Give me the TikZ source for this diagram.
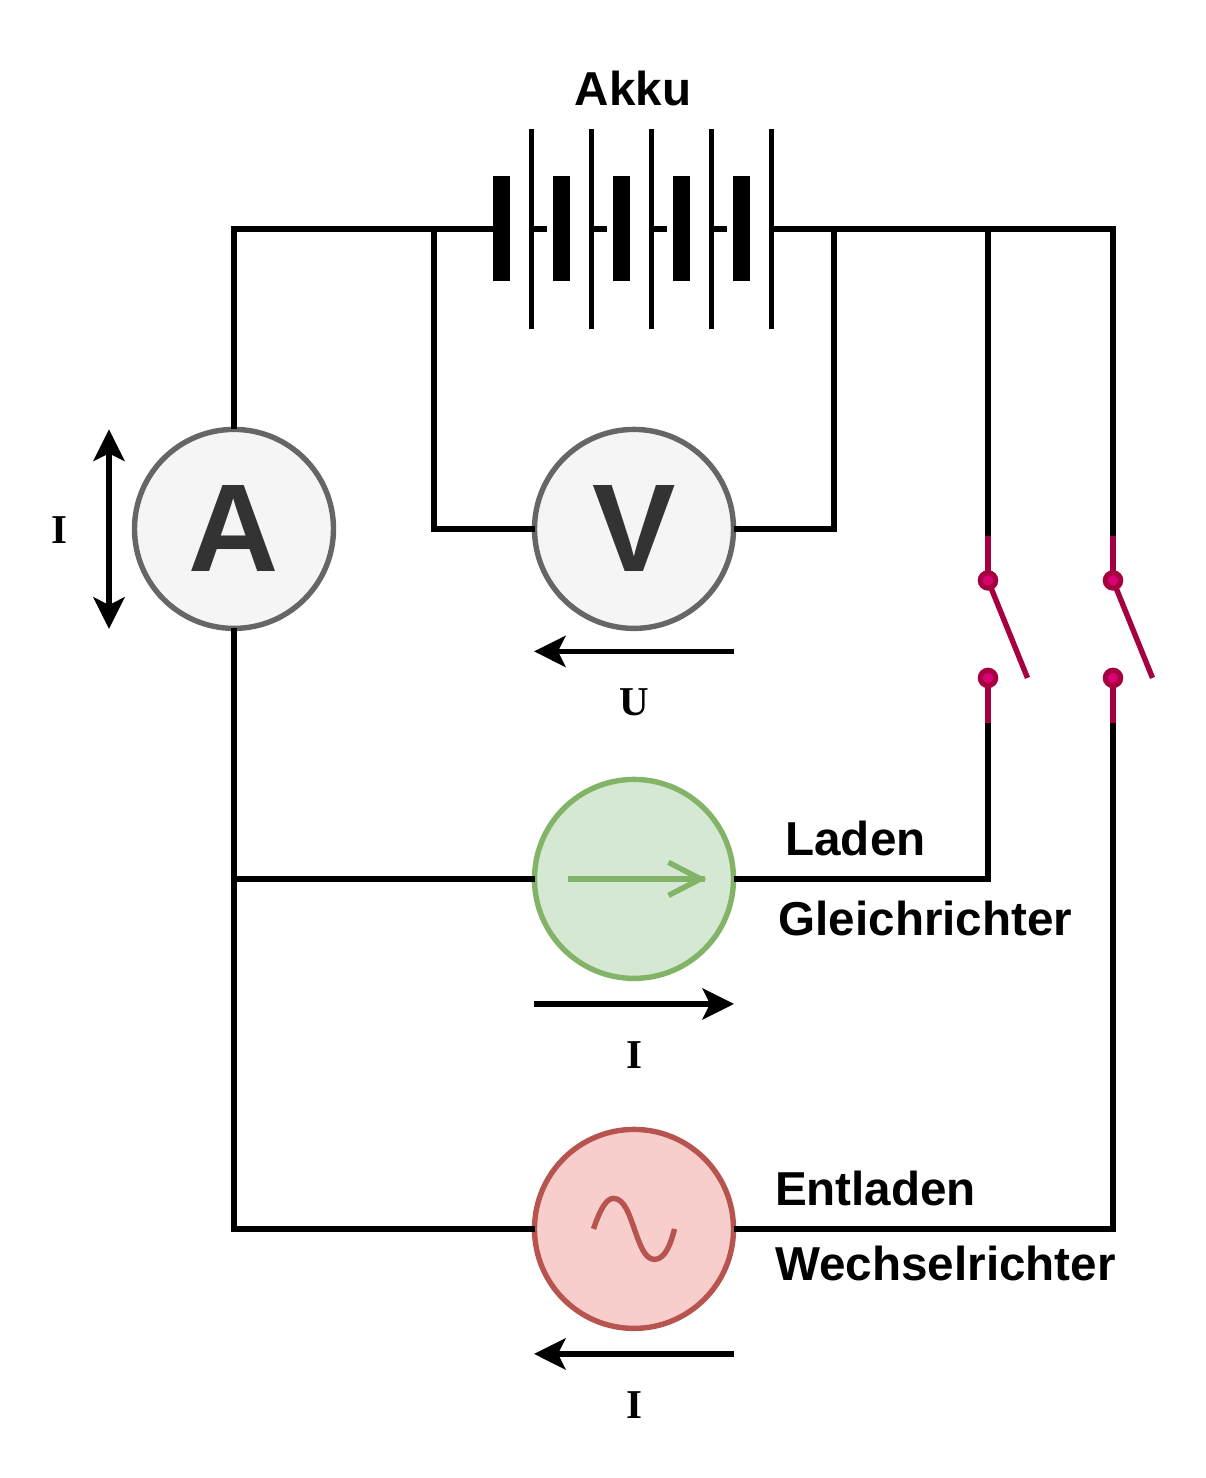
\documentclass[tikz,border=0pt]{standalone}
\usepackage{fontspec}
\setmainfont{Liberation Sans}
\newfontfamily\serifbold{Liberation Serif}[BoldFont=* Bold]
\usetikzlibrary{arrows.meta}
\definecolor{meterline}{HTML}{666666}
\definecolor{meterfill}{HTML}{F5F5F5}
\definecolor{meterfont}{HTML}{333333}
\definecolor{ladenline}{HTML}{82B366}
\definecolor{ladenfill}{HTML}{D5E8D4}
\definecolor{entladenline}{HTML}{B85450}
\definecolor{entladenfill}{HTML}{F8CECC}
\definecolor{switchline}{HTML}{A50040}
\definecolor{switchfill}{HTML}{D80073}
\tikzset{
  wire/.style={line width=5.6pt},
  meter/.style={circle,inner sep=0pt,outer sep=0pt,minimum size=199pt,line width=5.4pt,
    draw=meterline,fill=meterfill,text=meterfont,font=\fontsize{125}{125}\selectfont\bfseries},
  gleich/.style={meter,draw=ladenline,fill=ladenfill},
  wechsel/.style={meter,draw=entladenline,fill=entladenfill},
  thickplate/.style={rectangle,inner sep=0pt,outer sep=0pt,minimum width=17pt,minimum height=105pt,fill=black},
  thinplate/.style={rectangle,inner sep=0pt,outer sep=0pt,minimum width=5.4pt,minimum height=200pt,fill=black},
  contact/.style={circle,inner sep=0pt,outer sep=0pt,minimum size=15.5pt,line width=5pt,draw=switchline,fill=switchfill},
  switchwire/.style={line width=5.4pt,draw=switchline},
  title/.style={font=\fontsize{47.6}{48}\selectfont\bfseries,inner sep=0pt},
  symbol/.style={font=\fontsize{41}{41}\serifbold\bfseries,inner sep=0pt},
  flow/.style={line width=5.6pt,-{Stealth[length=31.5pt,width=31pt,inset=7.5pt]}},
  flowboth/.style={line width=5.6pt,{Stealth[length=31.5pt,width=31pt,inset=7.5pt]}-{Stealth[length=31.5pt,width=31pt,inset=7.5pt]}}
}
\begin{document}
\begin{tikzpicture}[x=1pt,y=-1pt]
  \useasboundingbox (-0.5,-0.4) rectangle (1204.5,1477.6);
  \draw
    (233.5,528.5) node[meter] (A){A}
    (633.5,528.5) node[meter] (V){V}
    (633.5,878.5) node[gleich] (G){}
    (633.5,1228.5) node[wechsel] (W){};
  \path
    (501.2,228.3) node[thickplate] (t1){}
    (561.2,228.3) node[thickplate] (t2){}
    (621.2,228.3) node[thickplate] (t3){}
    (681.2,228.3) node[thickplate] (t4){}
    (741.2,228.3) node[thickplate] (t5){}
    (531.1,228.3) node[thinplate] (p1){}
    (591.1,228.3) node[thinplate] (p2){}
    (651.1,228.3) node[thinplate] (p3){}
    (711.1,228.3) node[thinplate] (p4){}
    (771.1,228.3) node[thinplate] (p5){};
  \coordinate (s1) at (546.5,228.3);
  \coordinate (s2) at (606.5,228.3);
  \coordinate (s3) at (666.5,228.3);
  \coordinate (s4) at (726.5,228.3);
  \coordinate (j1) at (433.5,228.3);
  \coordinate (j2) at (833.5,228.3);
  \coordinate (j3) at (987.5,228.3);
  \coordinate (j4) at (233.5,878.5);
  % schalter
  \coordinate (a1) at (987.5,535.5);
  \coordinate (b1) at (987.5,722.5);
  \coordinate (h1) at (1027,677.5);
  \coordinate (a2) at (1112.5,535.5);
  \coordinate (b2) at (1112.5,722.5);
  \coordinate (h2) at (1152,677.5);
  \path
    (987.5,580) coordinate (c1)
    (987.5,677.5) coordinate (d1)
    (1112.5,580) coordinate (c2)
    (1112.5,677.5) coordinate (d2);
  \begin{scope}[wire]
    \draw (A.north) |- (t1.west);
    \draw (j1) |- (V.west);
    \draw (j2) |- (V.east);
    \draw (p1) to (s1);
    \draw (p2) to (s2);
    \draw (p3) to (s3);
    \draw (p4) to (s4);
    \draw (p5) -| (a2);
    \draw (j3) to (a1);
    \draw (A.south) |- (W.west);
    \draw (j4) to (G.west);
    \draw (b1) |- (G.east);
    \draw (b2) |- (W.east);
  \end{scope}
  \begin{scope}[switchwire]
    \draw (a1) to (c1);
    \draw (d1) to (b1);
    \draw (a2) to (c2);
    \draw (d2) to (b2);
    \draw (c1) to (h1);
    \draw (c2) to (h2);
  \end{scope}
  \node[contact] (oben1) at (c1) {};
  \node[contact] (unten1) at (d1) {};
  \node[contact] (oben2) at (c2) {};
  \node[contact] (unten2) at (d2) {};
  % symbole in den kreisen
  \draw[line width=5.4pt,draw=ladenline] (567.5,878.5) to (704,878.5);
  \draw[line width=5.4pt,draw=ladenline] (668,862) to (700,878.5) to (668,895);
  \draw[line width=5.4pt,draw=entladenline] (593,1228.5)
    .. controls (600,1208) and (606,1198) .. (613,1198)
    .. controls (624,1198) and (629,1215) .. (634,1229)
    .. controls (639,1243) and (644,1259) .. (654,1259)
    .. controls (664,1259) and (670,1245) .. (674,1228.5);
  % pfeile
  \coordinate (u1) at (733.5,651);
  \coordinate (u2) at (533.5,651);
  \coordinate (g1) at (533.5,1003.5);
  \coordinate (g2) at (733.5,1003.5);
  \coordinate (w1) at (733.5,1353.5);
  \coordinate (w2) at (533.5,1353.5);
  \coordinate (i1) at (108.5,429);
  \coordinate (i2) at (108.5,628.5);
  \draw[flow] (u1) to (u2);
  \draw[flow] (g1) to (g2);
  \draw[flow] (w1) to (w2);
  \draw[flowboth] (i1) to (i2);
  \node[title] (akku) at (632.5,88) {Akku};
  \node[title] (laden) at (855,838.5) {Laden};
  \node[title] (gleichrichter) at (925,918.5) {Gleichrichter};
  \node[title] (entladen) at (875,1188.5) {Entladen};
  \node[title] (wechselrichter) at (945,1263.5) {Wechselrichter};
  \node[symbol] (ustrom) at (633.5,702) {U};
  \node[symbol] (igleich) at (633.5,1055) {I};
  \node[symbol] (iwechsel) at (633.5,1405) {I};
  \node[symbol] (iakku) at (58.5,530) {I};
\end{tikzpicture}
\end{document}
